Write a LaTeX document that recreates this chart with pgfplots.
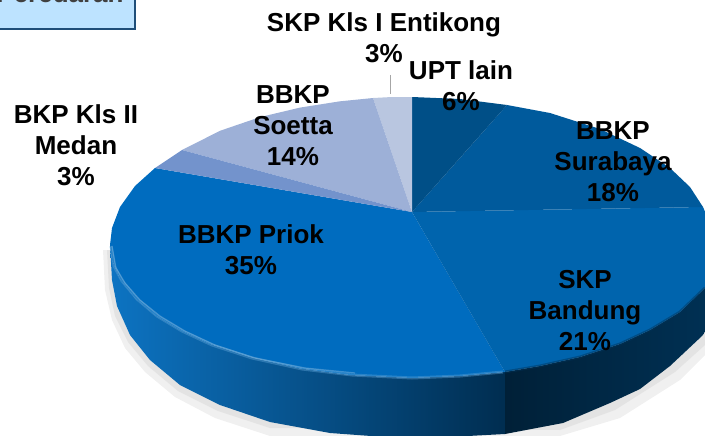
\documentclass[border=0pt]{standalone}
\usepackage{pgfplots}
\pgfplotsset{compat=1.18}
\usepackage{fontspec}
\setmainfont{Liberation Sans}
\definecolor{cUPT}{HTML}{004F87}
\definecolor{cSur}{HTML}{005A9C}
\definecolor{cBan}{HTML}{0064AD}
\definecolor{cPri}{HTML}{006CBF}
\definecolor{cMed}{HTML}{7393CC}
\definecolor{cSoe}{HTML}{9DB0D7}
\definecolor{cEnt}{HTML}{B9C6E0}
\definecolor{boxfill}{HTML}{BDE3FF}
\definecolor{boxline}{HTML}{1F4E79}
\tikzset{lab/.style={font=\fontsize{26}{31}\selectfont\bfseries,align=center,text=black,anchor=center,inner sep=0pt}}
\begin{document}
\begin{tikzpicture}
\begin{axis}[scale only axis,width=705pt,height=436pt,hide axis,
  xmin=0,xmax=705,ymin=0,ymax=436,y dir=reverse,
  clip=true]
% soft shadow
\addplot[draw=none,fill=black!6,forget plot] coordinates {(103,250)(105,290)(112,320)(125,348)(145,372)(175,397)(215,418)(270,436)(560,436)(620,418)(680,380)(705,355)(705,250)} -- cycle;
\addplot[draw=none,fill=black!11,forget plot] coordinates {(107,250)(109,288)(115,316)(128,342)(148,366)(178,391)(218,411)(270,428)(560,430)(615,410)(675,372)(705,345)(705,250)} -- cycle;
% side walls
\addplot[draw=none,left color=cPri!95!white,middle color=cPri!70!black,right color=cPri!42!black,forget plot] coordinates {(110,245)(112,260)(120,279)(135,298)(155,315)(180,330)(210,344)(250,357)(300,368.5)(350,375)(412,378)(460,376)(505,372)(505,434)(412,439)(330,433)(270,422)(220,405)(180,385)(150,360)(130,335)(117,306)(112,280)} -- cycle;
\addplot[draw=none,left color=cBan!32!black,middle color=cBan!30!black,right color=cBan!50!black,forget plot] coordinates {(505,372)(540,366)(580,357)(620,344)(650,330)(680,312)(705,288)(722,245)(730,300)(702,336)(670,366)(640,389)(610,403)(563,423)(505,434)} -- cycle;
% top surface slices
\addplot[draw=none,fill=cPri,forget plot] coordinates {(412,212)(505,372)(460,376)(412,378)(350,375)(300,368.5)(250,357)(210,344)(180,330)(155,315)(135,298)(120,279)(112,260)(110,245)(112,228)(120,207)(135,186)(155,168)} -- cycle;
\addplot[draw=none,fill=cBan,forget plot] coordinates {(412,212)(703,207)(712,228)(718,250)(705,288)(680,312)(650,330)(620,344)(580,357)(540,366)(505,372)} -- cycle;
\addplot[draw=none,fill=cSur,forget plot] coordinates {(412,212)(507,105)(550,113)(600,129)(640,148)(670,168)(690,187)(703,207)} -- cycle;
\addplot[draw=none,fill=cUPT,forget plot] coordinates {(412,212)(412,97)(460,99)(507,105)} -- cycle;
\addplot[draw=none,fill=cEnt,forget plot] coordinates {(412,212)(373,98)(392,97)(412,97)} -- cycle;
\addplot[draw=none,fill=cSoe,forget plot] coordinates {(412,212)(182,150)(220,130.8)(260,117.1)(300,107.6)(340,101.3)(373,98)} -- cycle;
\addplot[draw=none,fill=cMed,forget plot] coordinates {(412,212)(155,168)(182,150)} -- cycle;
% rim light and bevel
\addplot[no markers,color=cPri!65!white,line width=3pt,opacity=.45,forget plot] coordinates {(111,246)(114,266)(122,281)(137,299)(157,316)(182,331)(212,345)(252,358)(302,369)(352,375)(412,378)(460,376)(503,372)};
\addplot[no markers,color=cPri!40!white,line width=1.2pt,opacity=.4,forget plot] coordinates {(112,246)(116,268)(125,283)(140,300)(160,316)(185,331)(215,345)(255,358)(305,368)(355,373)};
\addplot[no markers,color=cBan!50!black,line width=3pt,opacity=.45,forget plot] coordinates {(505,372)(540,366)(580,357)(620,344)(650,330)(680,312)(705,288)};
% leader line
\addplot[no markers,color=black!35,line width=1.2pt,forget plot] coordinates {(390.5,75)(390.5,94)};
% top-left box (cut by the page edge)
\addplot[draw=boxline,line width=2pt,fill=boxfill,forget plot] coordinates {(-5,-5)(135,-5)(135,29)(-5,29)} -- cycle;
% labels
\node[lab] at (axis cs:384,38) {SKP Kls I Entikong\\3\%};
\node[lab] at (axis cs:461,86) {UPT lain\\6\%};
\node[lab] at (axis cs:613,162) {BBKP\\Surabaya\\18\%};
\node[lab] at (axis cs:585,311) {SKP\\Bandung\\21\%};
\node[lab] at (axis cs:251,250) {BBKP Priok\\35\%};
\node[lab] at (axis cs:293,126) {BBKP\\Soetta\\14\%};
\node[lab] at (axis cs:76,145) {BKP Kls II\\Medan\\3\%};
\begin{scope}
\clip (axis cs:0,0) rectangle (axis cs:140,30);
\node[font=\fontsize{26}{31}\selectfont\bfseries,text=black!75,anchor=base,inner sep=0pt] at (axis cs:60,3) {Peredaran};
\end{scope}
\end{axis}
\end{tikzpicture}
\end{document}
